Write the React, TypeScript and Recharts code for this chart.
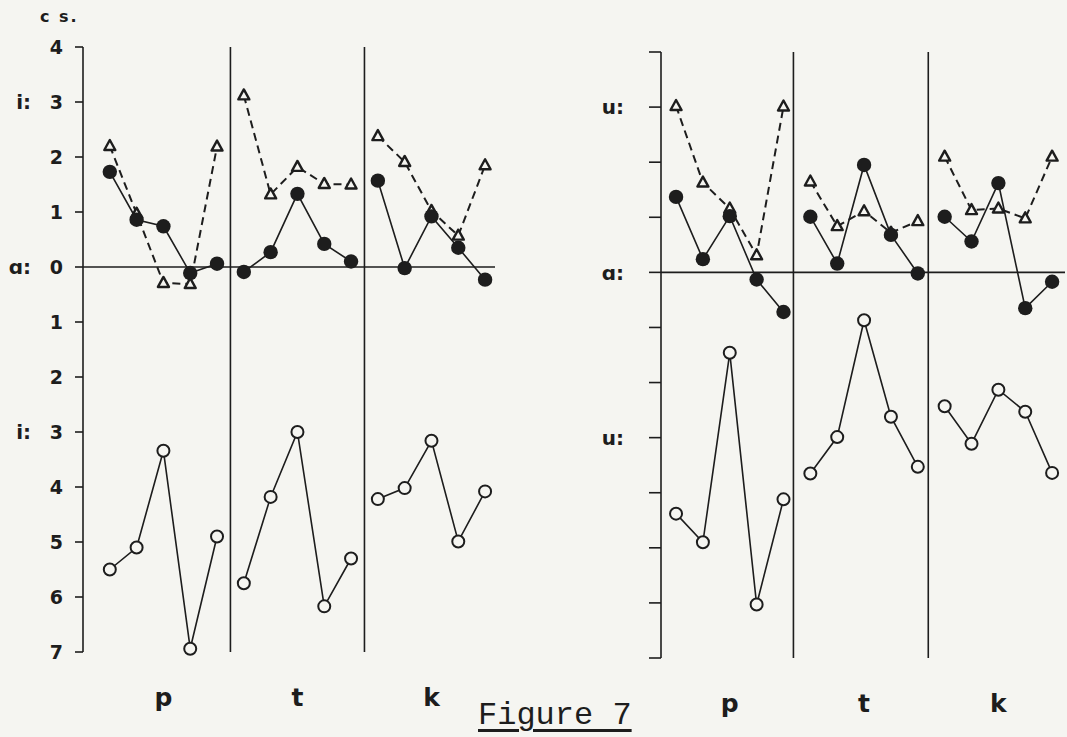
import React from 'react';
import { LineChart, Line, XAxis, YAxis, ReferenceLine } from 'recharts';

// consonant contexts, five tokens each
const consonants = ['p', 't', 'k'];
const positions = [1, 2, 3, 4, 5, 6, 7, 8, 9, 10, 11, 12, 13, 14, 15];
const consonantTicks = [3, 8, 13];
const yTicks = [4, 3, 2, 1, 0, -1, -2, -3, -4, -5, -6, -7];
const vowelTickValues = [3, 0, -3];
const leftVowels = ['i:', 'ɑ:', 'i:'];
const rightVowels = ['u:', 'ɑ:', 'u:'];

// left panel (cs.)
const leftTriangle = [2.2, 0.97, -0.29, -0.31, 2.19, 3.12, 1.32, 1.82, 1.51, 1.5, 2.38, 1.91, 1.02, 0.57, 1.85];
const leftFilled = [1.73, 0.86, 0.74, -0.11, 0.06, -0.09, 0.27, 1.33, 0.42, 0.1, 1.57, -0.02, 0.92, 0.35, -0.23];
const leftOpen = [-5.5, -5.1, -3.34, -6.94, -4.9, -5.75, -4.18, -3.0, -6.17, -5.3, -4.22, -4.02, -3.16, -4.99, -4.08];

// right panel
const rightTriangle = [3.02, 1.63, 1.16, 0.31, 3.01, 1.65, 0.84, 1.11, 0.72, 0.93, 2.1, 1.13, 1.16, 0.98, 2.1];
const rightFilled = [1.37, 0.24, 1.02, -0.13, -0.72, 1.01, 0.16, 1.95, 0.68, -0.02, 1.01, 0.56, 1.62, -0.65, -0.17];
const rightOpen = [-4.38, -4.9, -1.46, -6.03, -4.12, -3.65, -2.99, -0.87, -2.62, -3.53, -2.43, -3.11, -2.13, -2.53, -3.64];

const INK = '#1d1d1d';
const PAPER = '#f5f5f1';
const SANS = '"DejaVu Sans", sans-serif';

function buildRows(tri: number[], filled: number[], open: number[]) {
  return positions.map((x, i) => {
    const c = consonants[Math.floor(i / 5)];
    return { x, ['tri_' + c]: tri[i], ['fill_' + c]: filled[i], ['open_' + c]: open[i] };
  });
}

const TriangleDot = (props: any) => {
  const { cx, cy, key } = props;
  if (cx == null || cy == null) return <g key={key} />;
  const pts = `${cx},${cy - 6} ${cx - 5.5},${cy + 4} ${cx + 5.5},${cy + 4}`;
  return <polygon key={key} points={pts} fill={PAPER} stroke={INK} strokeWidth={2.4} strokeLinejoin="round" />;
};

const FilledDot = (props: any) => {
  const { cx, cy, key } = props;
  if (cx == null || cy == null) return <g key={key} />;
  return <circle key={key} cx={cx} cy={cy} r={7.2} fill={INK} />;
};

const OpenDot = (props: any) => {
  const { cx, cy, key } = props;
  if (cx == null || cy == null) return <g key={key} />;
  return <circle key={key} cx={cx} cy={cy} r={6} fill={PAPER} stroke={INK} strokeWidth={2} />;
};

const ConsonantTick = (props: any) => {
  const { x, y, payload } = props;
  const label = consonants[consonantTicks.indexOf(payload.value)];
  return (
    <text x={x} y={y + 54} textAnchor="middle" fontFamily={SANS} fontWeight="bold" fontSize={25} fill={INK}>
      {label}
    </text>
  );
};

function makeYTick(vowels: string[], showNumbers: boolean, numOffset: number, labelOffset: number) {
  return (props: any) => {
    const { x, y, payload } = props;
    const v = payload.value;
    const idx = vowelTickValues.indexOf(v);
    return (
      <g>
        {showNumbers && (
          <text x={x - numOffset} y={y} dy="0.37em" textAnchor="end" fontFamily={SANS} fontWeight="bold" fontSize={19} fill={INK}>
            {Math.abs(v)}
          </text>
        )}
        {idx >= 0 && (
          <text x={x - labelOffset} y={y} dy="0.37em" textAnchor="end" fontFamily={SANS} fontWeight="bold" fontSize={20} fill={INK}>
            {vowels[idx]}
          </text>
        )}
      </g>
    );
  };
}

type PanelProps = {
  rows: any[];
  width: number;
  height: number;
  top: number;
  plotHeight: number;
  axisWidth: number;
  tickSize: number;
  xDomain: [number, number];
  dividers: number[];
  tick: any;
  rightMargin: number;
};

function Panel({ rows, width, height, top, plotHeight, axisWidth, tickSize, xDomain, dividers, tick, rightMargin }: PanelProps) {
  return (
    <LineChart width={width} height={height} data={rows} margin={{ top, right: rightMargin, bottom: 0, left: 0 }}>
      <XAxis
        type="number"
        dataKey="x"
        domain={xDomain}
        ticks={consonantTicks}
        interval={0}
        axisLine={false}
        tickLine={false}
        tickSize={0}
        tickMargin={0}
        height={height - top - plotHeight}
        tick={<ConsonantTick />}
      />
      <YAxis
        type="number"
        domain={[-7, 4]}
        ticks={yTicks}
        interval={0}
        width={axisWidth}
        tickSize={tickSize}
        axisLine={{ stroke: INK, strokeWidth: 1.6 }}
        tickLine={{ stroke: INK, strokeWidth: 1.6 }}
        tick={tick}
      />
      <ReferenceLine y={0} stroke={INK} strokeWidth={1.6} />
      {dividers.map((d) => (
        <ReferenceLine key={d} x={d} stroke={INK} strokeWidth={1.6} />
      ))}
      {consonants.map((c) => (
        <Line
          key={'tri_' + c}
          dataKey={'tri_' + c}
          stroke={INK}
          strokeWidth={2}
          strokeDasharray="8 5"
          dot={TriangleDot}
          activeDot={false}
          isAnimationActive={false}
        />
      ))}
      {consonants.map((c) => (
        <Line
          key={'fill_' + c}
          dataKey={'fill_' + c}
          stroke={INK}
          strokeWidth={1.6}
          dot={FilledDot}
          activeDot={false}
          isAnimationActive={false}
        />
      ))}
      {consonants.map((c) => (
        <Line
          key={'open_' + c}
          dataKey={'open_' + c}
          stroke={INK}
          strokeWidth={1.6}
          dot={OpenDot}
          activeDot={false}
          isAnimationActive={false}
        />
      ))}
    </LineChart>
  );
}

export default function App() {
  const leftRows = buildRows(leftTriangle, leftFilled, leftOpen);
  const rightRows = buildRows(rightTriangle, rightFilled, rightOpen);

  return (
    <div
      style={{
        position: 'absolute',
        left: 0,
        top: 0,
        width: 1067,
        height: 737,
        background: PAPER,
        overflow: 'hidden',
      }}
    >
      <div
        style={{
          position: 'absolute',
          left: 40,
          top: 9,
          fontFamily: SANS,
          fontWeight: 'bold',
          fontSize: 16,
          lineHeight: '16px',
          letterSpacing: 2,
          color: INK,
          whiteSpace: 'pre',
        }}
      >
        c s.
      </div>

      <div style={{ position: 'absolute', left: 0, top: 0 }}>
        <Panel
          rows={leftRows}
          width={500}
          height={737}
          top={47}
          plotHeight={605}
          axisWidth={83}
          tickSize={8}
          xDomain={[0, 15.37]}
          dividers={[5.5, 10.5]}
          tick={makeYTick(leftVowels, true, 10, 42)}
          rightMargin={5}
        />
      </div>

      <div style={{ position: 'absolute', left: 560, top: 0 }}>
        <Panel
          rows={rightRows}
          width={507}
          height={737}
          top={52}
          plotHeight={606}
          axisWidth={101}
          tickSize={12}
          xDomain={[0.44, 15.48]}
          dividers={[5.37, 10.39]}
          tick={makeYTick(rightVowels, false, 0, 23)}
          rightMargin={2}
        />
      </div>

      <div
        style={{
          position: 'absolute',
          left: 478,
          top: 700,
          fontFamily: '"Liberation Mono", "Courier New", monospace',
          fontSize: 32,
          lineHeight: '32px',
          color: INK,
          textDecoration: 'underline',
          textDecorationThickness: 3,
          textUnderlineOffset: 5,
          whiteSpace: 'pre',
        }}
      >
        Figure 7
      </div>
    </div>
  );
}
